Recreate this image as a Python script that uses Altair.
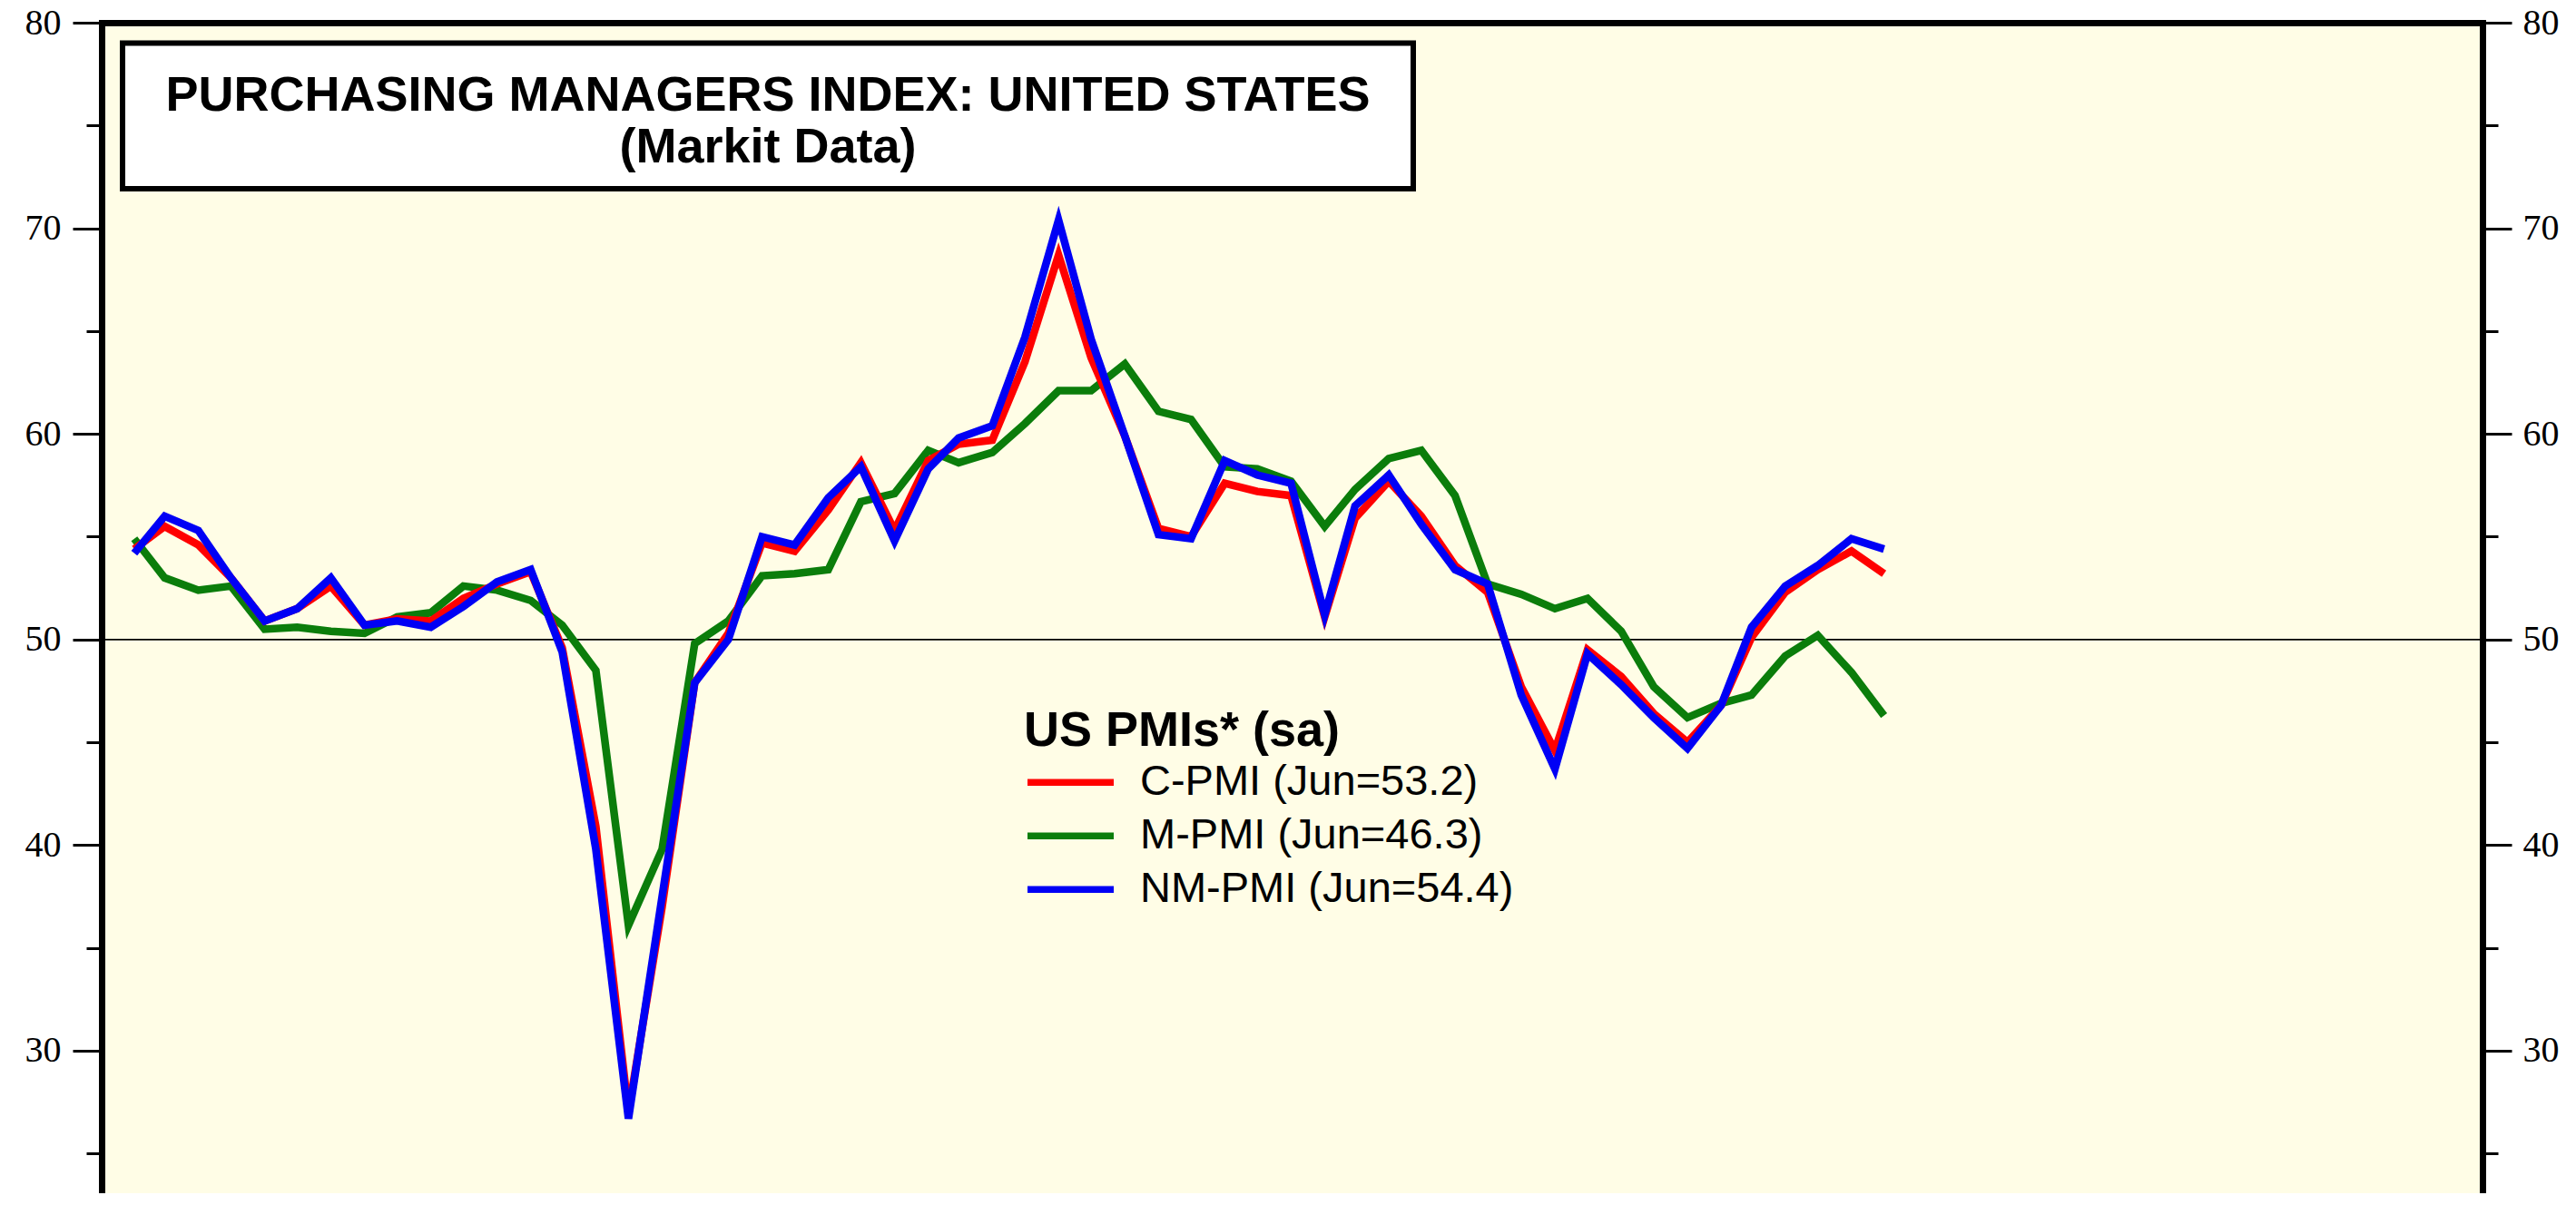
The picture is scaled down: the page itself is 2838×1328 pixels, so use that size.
import altair as alt
import pandas as pd

# ---------------- data ----------------
MONTHS = [f"{y}-{m:02d}" for y in range(2019, 2024) for m in range(1, 13)][:54]  # Jan 2019 .. Jun 2023

C_PMI = [54.4, 55.5, 54.6, 53.0, 50.9, 51.5, 52.6, 50.7, 51.0, 50.9, 52.0, 52.7,
         53.3, 49.6, 40.9, 27.0, 37.0, 47.9, 50.3, 54.7, 54.3, 56.3, 58.6, 55.3,
         58.7, 59.5, 59.7, 63.5, 68.7, 63.7, 59.9, 55.4, 55.0, 57.6, 57.2, 57.0,
         51.1, 55.9, 57.7, 56.0, 53.6, 52.3, 47.7, 44.6, 49.5, 48.2, 46.4, 45.0,
         46.8, 50.1, 52.3, 53.4, 54.3, 53.2]
M_PMI = [54.9, 53.0, 52.4, 52.6, 50.5, 50.6, 50.4, 50.3, 51.1, 51.3, 52.6, 52.4,
         51.9, 50.7, 48.5, 36.1, 39.8, 49.8, 50.9, 53.1, 53.2, 53.4, 56.7, 57.1,
         59.2, 58.6, 59.1, 60.5, 62.1, 62.1, 63.4, 61.1, 60.7, 58.4, 58.3, 57.7,
         55.5, 57.3, 58.8, 59.2, 57.0, 52.7, 52.2, 51.5, 52.0, 50.4, 47.7, 46.2,
         46.9, 47.3, 49.2, 50.2, 48.4, 46.3]
NM_PMI = [54.2, 56.0, 55.3, 53.0, 50.9, 51.5, 53.0, 50.7, 50.9, 50.6, 51.6, 52.8,
          53.4, 49.4, 39.8, 26.7, 37.5, 47.9, 50.0, 55.0, 54.6, 56.9, 58.4, 54.8,
          58.3, 59.8, 60.4, 64.7, 70.4, 64.6, 59.9, 55.1, 54.9, 58.7, 58.0, 57.6,
          51.2, 56.5, 58.0, 55.6, 53.4, 52.7, 47.3, 43.7, 49.3, 47.8, 46.2, 44.7,
          46.8, 50.6, 52.6, 53.6, 54.9, 54.4]

SERIES = ["C-PMI (Jun=53.2)", "M-PMI (Jun=46.3)", "NM-PMI (Jun=54.4)"]
COLORS = ["#FF0000", "#0B7D0B", "#0000F5"]
TITLE_LINES = ["PURCHASING MANAGERS INDEX: UNITED STATES", "(Markit Data)"]
LEGEND_TITLE = "US PMIs* (sa)"
Y_TICKS = [25, 30, 35, 40, 45, 50, 55, 60, 65, 70, 75, 80]
REF_LEVEL = [50]

BG = "#FFFDE6"
Y_MAX = 80
Y_MIN = 23.07

dates = (pd.to_datetime(MONTHS) + pd.offsets.MonthEnd(0)).strftime("%Y-%m-%d").tolist()

# drawing order: green underneath, then red, blue on top
frames = []
for name, vals in [(SERIES[1], M_PMI), (SERIES[0], C_PMI), (SERIES[2], NM_PMI)]:
    frames.append(pd.DataFrame({"date": dates, "series": name, "value": vals}))
df = pd.concat(frames, ignore_index=True)

one = pd.DataFrame({"k": [0]})

# ---------------- scales / axes ----------------
y_scale = alt.Scale(domain=[Y_MIN, Y_MAX], nice=False, zero=False)
x_scale = alt.Scale(domain=[alt.DateTime(year=2019, month=1, date=1, utc=True),
                            alt.DateTime(year=2025, month=1, date=1, utc=True)])

tick_size = {"condition": {"test": "datum.value % 10 === 0", "value": 32}, "value": 17}


def y_axis(orient, pad):
    return alt.Axis(
        orient=orient,
        values=Y_TICKS,
        labelExpr="datum.value % 10 === 0 ? datum.label : ''",
        tickSize=tick_size,
        tickWidth=3,
        tickColor="black",
        domainColor="black",
        domainWidth=7,
        domainCap="square",
        labelFont="Liberation Serif",
        labelFontSize=40,
        labelColor="black",
        labelPadding=pad,
        labelOverlap=False,
        grid=False,
        title=None,
    )


x_axis = alt.Axis(orient="top", ticks=False, labels=False, grid=False,
                  domainColor="black", domainWidth=7, domainCap="square", title=None)

# ---------------- layers ----------------
rule = alt.Chart(pd.DataFrame({"level": REF_LEVEL})).mark_rule(
    color="black", strokeWidth=1.8
).encode(y=alt.Y("level:Q", scale=y_scale, axis=y_axis("right", 12)))

lines = alt.Chart(df).mark_line(strokeWidth=8.5).encode(
    x=alt.X("date:T", scale=x_scale, axis=x_axis),
    y=alt.Y("value:Q", scale=y_scale, axis=y_axis("left", 13)),
    color=alt.Color(
        "series:N",
        scale=alt.Scale(domain=SERIES, range=COLORS),
        legend=alt.Legend(
            orient="none", legendX=1016, legendY=754,
            title=LEGEND_TITLE, titleFont="Liberation Sans", titleFontSize=54,
            titleFontWeight="bold", titleColor="black", titlePadding=0,
            titleLimit=2000, titleAnchor="start",
            labelFont="Liberation Sans", labelFontSize=47, labelColor="black",
            labelLimit=2000, labelOffset=25,
            symbolType="stroke", symbolStrokeWidth=7.5, symbolSize=9025,
            rowPadding=0, clipHeight=58.5, padding=0,
        ),
    ),
)

box = alt.Chart(one).mark_rect(fill="white", stroke="black", strokeWidth=6).encode(
    x=alt.value(23), x2=alt.value(1445), y=alt.value(22.5), y2=alt.value(183)
)

title_text = alt.Chart(one).mark_text(
    text=TITLE_LINES, font="Liberation Sans", fontSize=54, fontWeight="bold",
    align="center", baseline="alphabetic", lineHeight=57, color="black"
).encode(x=alt.value(734), y=alt.value(97))

chart = (
    alt.layer(rule, lines, box, title_text)
    .resolve_axis(y="independent")
    .properties(
        width=2623, height=1290,
        padding={"left": 104, "top": 17, "right": 88, "bottom": 0},
        autosize=alt.AutoSizeParams(type="none"),
        background="white",
    )
    .configure_view(fill=BG, strokeWidth=0)
)

chart.save("out.html", embed_options={"renderer": "svg", "actions": False})
